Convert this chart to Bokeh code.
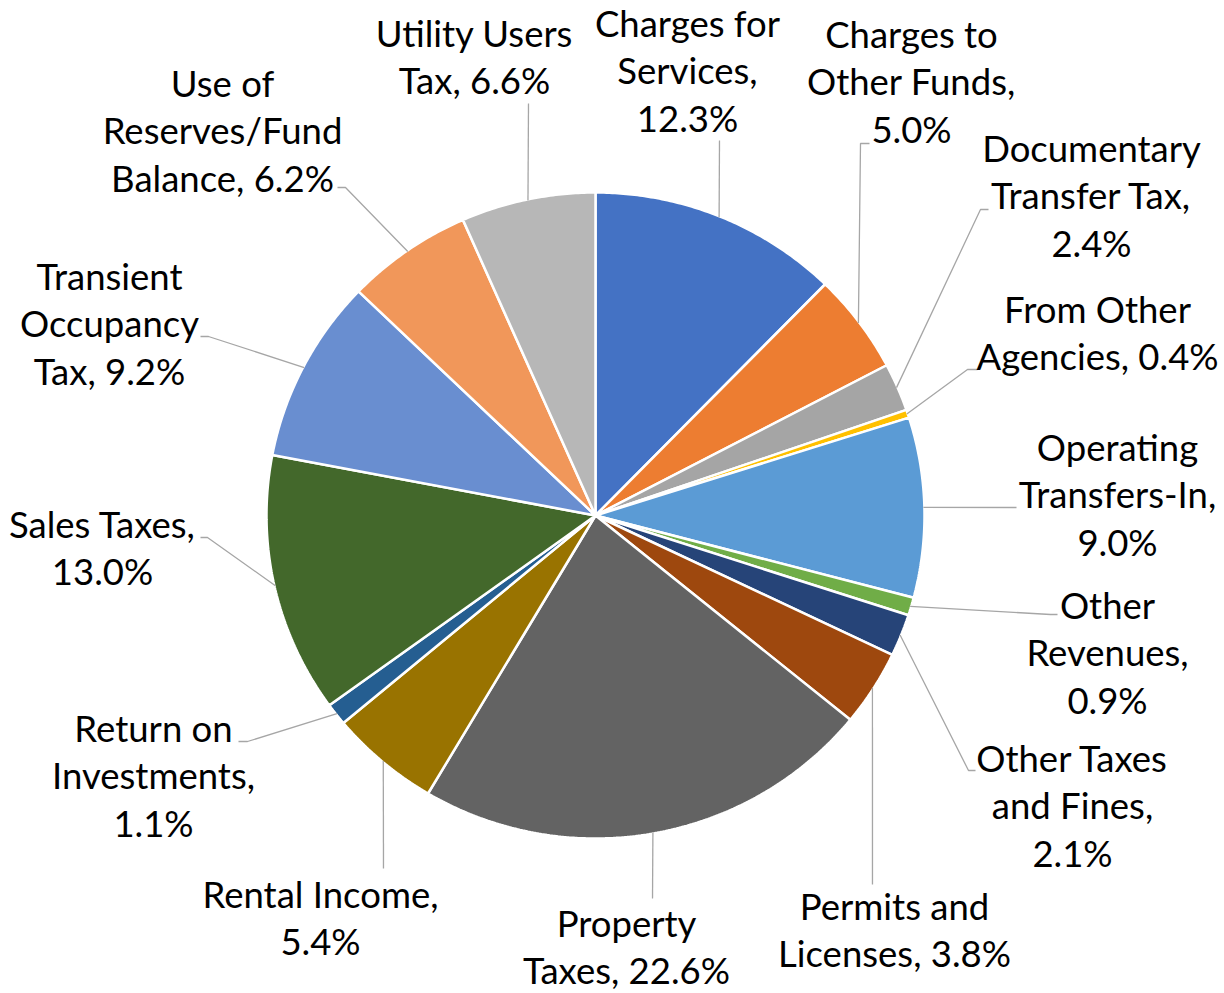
import numpy as np
from bokeh.plotting import figure
from bokeh.models import Range1d
from bokeh.core.properties import value
from bokeh.embed import file_html
from bokeh.resources import INLINE

# ---- data ----
categories = ["Charges for Services", "Charges to Other Funds", "Documentary Transfer Tax",
              "From Other Agencies", "Operating Transfers-In", "Other Revenues",
              "Other Taxes and Fines", "Permits and Licenses", "Property Taxes",
              "Rental Income", "Return on Investments", "Sales Taxes",
              "Transient Occupancy Tax", "Use of Reserves/Fund Balance", "Utility Users Tax"]
shares = [12.3, 5.0, 2.4, 0.4, 9.0, 0.9, 2.1, 3.8, 22.6, 5.4, 1.1, 13.0, 9.2, 6.2, 6.6]
colors = ["#4472C4", "#ED7D31", "#A5A5A5", "#FFC000", "#5B9BD5", "#70AD47", "#264478",
          "#9E480E", "#636363", "#997300", "#255E91", "#43682B", "#698ED0", "#F1975A", "#B7B7B7"]

# ---- layout (screen pixel coordinates) ----
CX, CY, RX, RY = 595.0, 515.0, 329.0, 323.0
words_per_line = [[2, 1, 1], [2, 2, 1], [1, 2, 1], [2, 2], [1, 1, 1], [1, 1, 1], [2, 2, 1], [2, 2],
                  [1, 2], [2, 1], [2, 1, 1], [2, 1], [1, 1, 2], [2, 1, 2], [2, 2]]
label_cx = [687, 911, 1091, 1097, 1117, 1107, 1072, 894, 626, 320, 153, 102, 109, 222, 474]
label_y0 = [22, 33, 147, 308, 446, 604, 757, 905, 922, 893, 727, 523, 275, 82, 32]
line_gap = 47.5
leader_anchor = [[(719, 140)], [(869, 143), (860, 143)], [(988, 209), (980, 209)],
                 [(977, 369), (967, 369)], [(1016, 507)], [(1057, 614), (1050, 614)],
                 [(975, 770), (968, 770)], [(872, 884)], [(652, 898)], [(383, 868)],
                 [(238, 741), (247, 741)], [(200, 537), (207, 537)], [(200, 336), (208, 336)],
                 [(337, 187), (345, 187)], [(528, 103)]]

p = figure(width=1224, height=993, output_backend="svg", toolbar_location=None,
           x_range=Range1d(0, 1224), y_range=Range1d(993, 0),
           x_axis_type=None, y_axis_type=None, min_border=0)
p.grid.visible = False
p.outline_line_color = None
p.background_fill_color = "white"
p.border_fill_color = "white"

total = float(sum(shares))
cum = np.concatenate([[0.0], np.cumsum(shares)]) / total
xs, ys = [], []
for i in range(len(shares)):
    a0, a1 = 2 * np.pi * cum[i], 2 * np.pi * cum[i + 1]
    t = np.linspace(a0, a1, max(4, int((a1 - a0) * 120)))
    xs.append([CX] + list(CX + RX * np.sin(t)))
    ys.append([CY] + list(CY - RY * np.cos(t)))
p.patches(xs, ys, fill_color=colors, line_color="white", line_width=2.5)

# leader lines
lx, ly = [], []
for i in range(len(shares)):
    am = 2 * np.pi * (cum[i] + cum[i + 1]) / 2
    ex, ey = CX + (RX - 1) * np.sin(am), CY - (RY - 1) * np.cos(am)
    pts = leader_anchor[i] + [(ex, ey)]
    lx.append([q[0] for q in pts])
    ly.append([q[1] for q in pts])
p.multi_line(lx, ly, line_color="#A6A6A6", line_width=1.3)

# labels
tx, ty, tt = [], [], []
for i, name in enumerate(categories):
    words = f"{name}, {shares[i]:.1f}%".split(" ")
    k = 0
    for j, n in enumerate(words_per_line[i]):
        tt.append(" ".join(words[k:k + n]))
        k += n
        tx.append(label_cx[i])
        ty.append(label_y0[i] + j * line_gap)
p.text(tx, ty, text=tt, text_align="center", text_baseline="middle",
       text_font=value("Lato"), text_font_size="36.5px", text_color="#000000")

open("out.html", "w").write(file_html(p, INLINE))
